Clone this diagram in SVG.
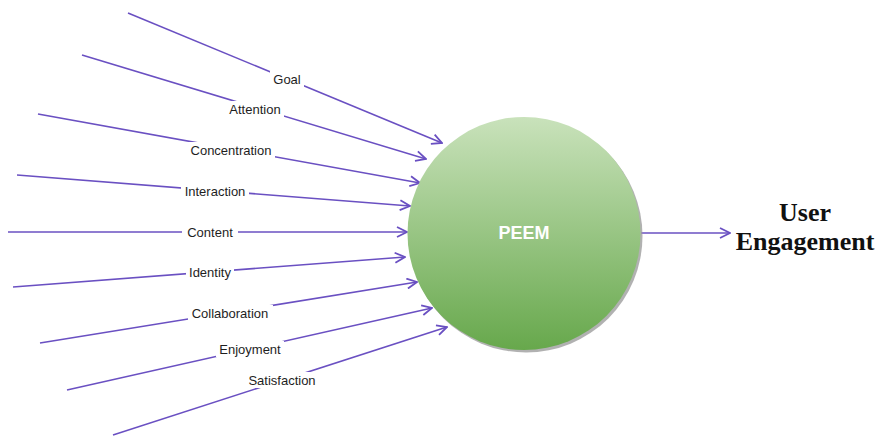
<svg xmlns="http://www.w3.org/2000/svg" width="883" height="436" viewBox="0 0 883 436">
  <style>
    .conn { stroke: #6a50c2; stroke-width: 1.6; fill: none; }
    .lbl { font-family: "Liberation Sans", Arial, sans-serif; font-size: 13px; fill: #1e1e1e; text-anchor: middle; dominant-baseline: central; }
    .bg { fill: #ffffff; }
    .peem { font-family: "Liberation Sans", Arial, sans-serif; font-size: 18px; font-weight: bold; fill: #ffffff; text-anchor: middle; dominant-baseline: central; }
    .out { font-family: "Liberation Serif", "Times New Roman", serif; font-size: 26px; font-weight: bold; fill: #111; text-anchor: middle; }
  </style>
  <defs>
    <marker id="arrow" viewBox="0 0 12 12" refX="11" refY="6" markerWidth="12" markerHeight="12" markerUnits="userSpaceOnUse" orient="auto">
      <path d="M1,1 L11,6 L1,11" fill="none" stroke="#6a50c2" stroke-width="1.8" stroke-linejoin="miter"/>
    </marker>
    <linearGradient id="green" x1="0" y1="0" x2="0" y2="1">
      <stop offset="0" stop-color="#c9e2bb"/>
      <stop offset="1" stop-color="#67a84c"/>
    </linearGradient>
  </defs>

  <rect width="883" height="436" fill="#ffffff"/>

  <!-- incoming factor connectors -->
  <g id="connectors">
    <line class="conn" x1="128" y1="13" x2="442" y2="143" marker-end="url(#arrow)"/>
    <line class="conn" x1="82" y1="55" x2="426" y2="159" marker-end="url(#arrow)"/>
    <line class="conn" x1="38" y1="114" x2="420" y2="183" marker-end="url(#arrow)"/>
    <line class="conn" x1="17" y1="175" x2="410" y2="206" marker-end="url(#arrow)"/>
    <line class="conn" x1="8" y1="232" x2="407" y2="232" marker-end="url(#arrow)"/>
    <line class="conn" x1="13" y1="287" x2="405" y2="257" marker-end="url(#arrow)"/>
    <line class="conn" x1="40" y1="343" x2="417" y2="282" marker-end="url(#arrow)"/>
    <line class="conn" x1="67" y1="390" x2="432" y2="308" marker-end="url(#arrow)"/>
    <line class="conn" x1="113" y1="435" x2="447" y2="327" marker-end="url(#arrow)"/>
    <line class="conn" x1="641" y1="233" x2="730" y2="233" marker-end="url(#arrow)"/>
  </g>

  <!-- connector labels -->
  <g id="label-goal"><rect class="bg" x="270" y="71" width="34" height="16"/><text class="lbl" x="287" y="79">Goal</text></g>
  <g id="label-attention"><rect class="bg" x="226" y="101" width="58" height="16"/><text class="lbl" x="255" y="109">Attention</text></g>
  <g id="label-concentration"><rect class="bg" x="187" y="142" width="88" height="16"/><text class="lbl" x="231" y="150">Concentration</text></g>
  <g id="label-interaction"><rect class="bg" x="181" y="183" width="68" height="16"/><text class="lbl" x="215" y="191">Interaction</text></g>
  <g id="label-content"><rect class="bg" x="182" y="224" width="56" height="16"/><text class="lbl" x="210" y="232">Content</text></g>
  <g id="label-identity"><rect class="bg" x="186" y="264" width="48" height="16"/><text class="lbl" x="210" y="272">Identity</text></g>
  <g id="label-collaboration"><rect class="bg" x="188" y="305" width="85" height="16"/><text class="lbl" x="230" y="313">Collaboration</text></g>
  <g id="label-enjoyment"><rect class="bg" x="216" y="341" width="68" height="16"/><text class="lbl" x="250" y="349">Enjoyment</text></g>
  <g id="label-satisfaction"><rect class="bg" x="244" y="372" width="76" height="16"/><text class="lbl" x="282" y="380">Satisfaction</text></g>

  <!-- central construct -->
  <g id="node-peem">
    <circle cx="526" cy="236" r="116.5" fill="#9e9e9e" opacity="0.8"/>
    <circle cx="524" cy="233.5" r="116.5" fill="url(#green)"/>
    <text class="peem" x="524" y="233">PEEM</text>
  </g>

  <!-- outcome -->
  <g id="node-user-engagement">
    <text class="out" x="805" y="221">User</text>
    <text class="out" x="805" y="250">Engagement</text>
  </g>
</svg>
